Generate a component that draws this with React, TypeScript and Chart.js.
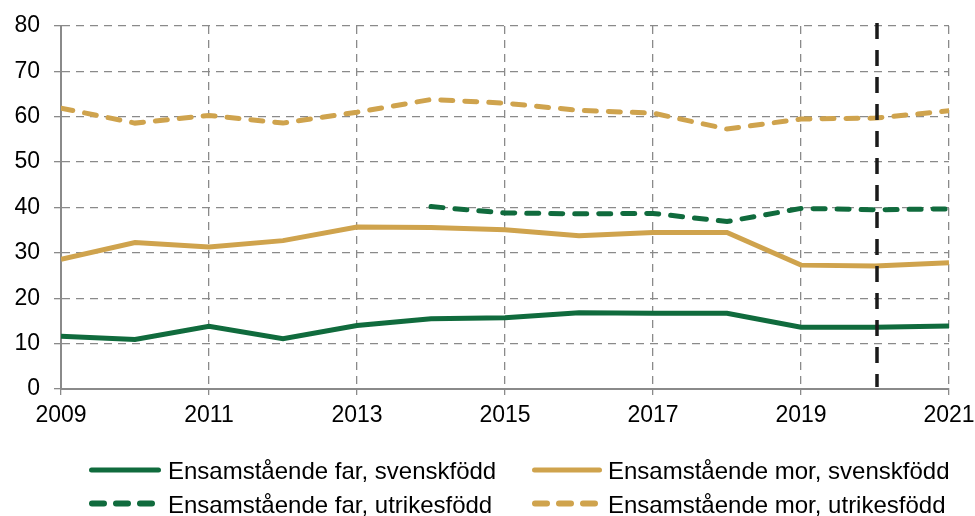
import React, { useEffect, useRef } from "react";
import { Chart, registerables } from "chart.js";

Chart.register(...registerables);

const years = [2009, 2010, 2011, 2012, 2013, 2014, 2015, 2016, 2017, 2018, 2019, 2020, 2021];
const farSvenskfodd = [11.6, 10.9, 13.8, 11.1, 14.0, 15.5, 15.7, 16.8, 16.7, 16.7, 13.6, 13.6, 13.9];
const morSvenskfodd = [28.6, 32.3, 31.3, 32.7, 35.7, 35.6, 35.1, 33.8, 34.5, 34.5, 27.3, 27.1, 27.8];
const farUtrikesfodd = [null, null, null, null, null, 40.2, 38.8, 38.6, 38.7, 36.9, 39.8, 39.5, 39.7];
const morUtrikesfodd = [61.9, 58.6, 60.3, 58.6, 61.0, 63.8, 63.0, 61.4, 60.8, 57.3, 59.5, 59.7, 61.3];

const xTickLabels = ["2009", "2011", "2013", "2015", "2017", "2019", "2021"];
const yTickLabels = ["0", "10", "20", "30", "40", "50", "60", "70", "80"];
const markerYear = 2020;

const seriesLabels = [
  "Ensamstående far, svenskfödd",
  "Ensamstående mor, svenskfödd",
  "Ensamstående far, utrikesfödd",
  "Ensamstående mor, utrikesfödd",
];

const GREEN = "#106b3d";
const GOLD = "#cfa34d";
const GRID = "#8a8a8a";
const FONT = "'Liberation Sans', Arial, sans-serif";

function toPoints(values: (number | null)[]) {
  return years
    .map((yr, i) => ({ x: yr, y: values[i] }))
    .filter((p) => p.y !== null);
}

const markerPlugin = {
  id: "markerLine",
  afterDatasetsDraw(chart: any) {
    const { ctx, chartArea, scales } = chart;
    const x = scales.x.getPixelForValue(markerYear) + 2;
    ctx.save();
    ctx.strokeStyle = "#1a1a1a";
    ctx.lineWidth = 3.5;
    ctx.setLineDash([16, 11]);
    ctx.beginPath();
    ctx.moveTo(x, chartArea.top - 3);
    ctx.lineTo(x, chartArea.bottom - 2);
    ctx.stroke();
    ctx.restore();
  },
};

const legendPlugin = {
  id: "customLegend",
  afterDraw(chart: any) {
    const { ctx } = chart;
    const colX = [89, 532];
    const rowY = [470, 503.5];
    const sampleLen = [72, 70];
    const textGap = [79, 76];
    const colors = [GREEN, GOLD, GREEN, GOLD];
    seriesLabels.forEach((label, i) => {
      const col = i % 2;
      const row = Math.floor(i / 2);
      const x0 = colX[col];
      const y = rowY[row];
      ctx.save();
      ctx.strokeStyle = colors[i];
      ctx.lineCap = "round";
      if (row === 0) {
        ctx.lineWidth = 5;
        ctx.beginPath();
        ctx.moveTo(x0 + 2.5, y);
        ctx.lineTo(x0 + sampleLen[col] - 2.5, y);
        ctx.stroke();
      } else {
        ctx.lineWidth = 6;
        ctx.setLineDash([12, 12]);
        ctx.beginPath();
        ctx.moveTo(x0 + 3, y);
        ctx.lineTo(x0 + 63, y);
        ctx.stroke();
      }
      ctx.restore();
      ctx.save();
      ctx.fillStyle = "#000";
      ctx.font = `24px ${FONT}`;
      ctx.textBaseline = "alphabetic";
      ctx.textAlign = "left";
      ctx.fillText(label, x0 + textGap[col], y + 9);
      ctx.restore();
    });
  },
};

export default function App() {
  const canvasRef = useRef<HTMLCanvasElement | null>(null);

  useEffect(() => {
    if (!canvasRef.current) return;
    const chart = new Chart(canvasRef.current, {
      type: "line",
      data: {
        datasets: [
          {
            label: seriesLabels[0],
            data: toPoints(farSvenskfodd),
            borderColor: GREEN,
            borderWidth: 5,
            pointRadius: 0,
            tension: 0,
          },
          {
            label: seriesLabels[1],
            data: toPoints(morSvenskfodd),
            borderColor: GOLD,
            borderWidth: 5,
            pointRadius: 0,
            tension: 0,
          },
          {
            label: seriesLabels[2],
            data: toPoints(farUtrikesfodd),
            borderColor: GREEN,
            borderWidth: 5,
            borderDash: [12, 12],
            borderCapStyle: "round",
            pointRadius: 0,
            tension: 0,
          },
          {
            label: seriesLabels[3],
            data: toPoints(morUtrikesfodd),
            borderColor: GOLD,
            borderWidth: 5,
            borderDash: [12, 12],
            borderCapStyle: "round",
            pointRadius: 0,
            tension: 0,
          },
        ],
      },
      options: {
        responsive: false,
        animation: false,
        layout: { padding: { top: 26, right: 26, left: 0, bottom: 0 } },
        plugins: {
          legend: { display: false },
          tooltip: { enabled: false },
        },
        scales: {
          x: {
            type: "linear",
            min: 2009,
            max: 2021,
            afterBuildTicks: (scale: any) => {
              scale.ticks = xTickLabels.map((t) => ({ value: Number(t) }));
            },
            afterFit: (scale: any) => {
              scale.height = 127;
              scale.paddingLeft = 0;
              scale.paddingRight = 0;
            },
            ticks: {
              color: "#000",
              font: { family: FONT, size: 23 },
              padding: 7,
              maxRotation: 0,
              autoSkip: false,
              callback: (v: any) => String(v),
            },
            grid: {
              color: GRID,
              lineWidth: 1.3,
              tickLength: 6,
              tickColor: GRID,
            },
            border: { display: true, color: GRID, width: 2, dash: [8, 6] },
          },
          y: {
            type: "linear",
            min: 0,
            max: 80,
            afterBuildTicks: (scale: any) => {
              scale.ticks = yTickLabels.map((t) => ({ value: Number(t) }));
            },
            afterFit: (scale: any) => {
              scale.width = 61;
              scale.paddingTop = 0;
              scale.paddingBottom = 0;
            },
            ticks: {
              color: "#000",
              font: { family: FONT, size: 23 },
              padding: 14,
              callback: (v: any) => String(v),
            },
            grid: {
              color: GRID,
              lineWidth: 1.3,
              tickLength: 7,
              tickColor: GRID,
            },
            border: { display: true, color: GRID, width: 2, dash: [8, 6] },
          },
        },
      },
      plugins: [markerPlugin, legendPlugin],
    } as any);
    return () => chart.destroy();
  }, []);

  return (
    <div style={{ position: "absolute", left: 0, top: 0, width: 975, height: 516, background: "#fff" }}>
      <canvas ref={canvasRef} width={975} height={516} style={{ width: 975, height: 516, display: "block" }} />
    </div>
  );
}
